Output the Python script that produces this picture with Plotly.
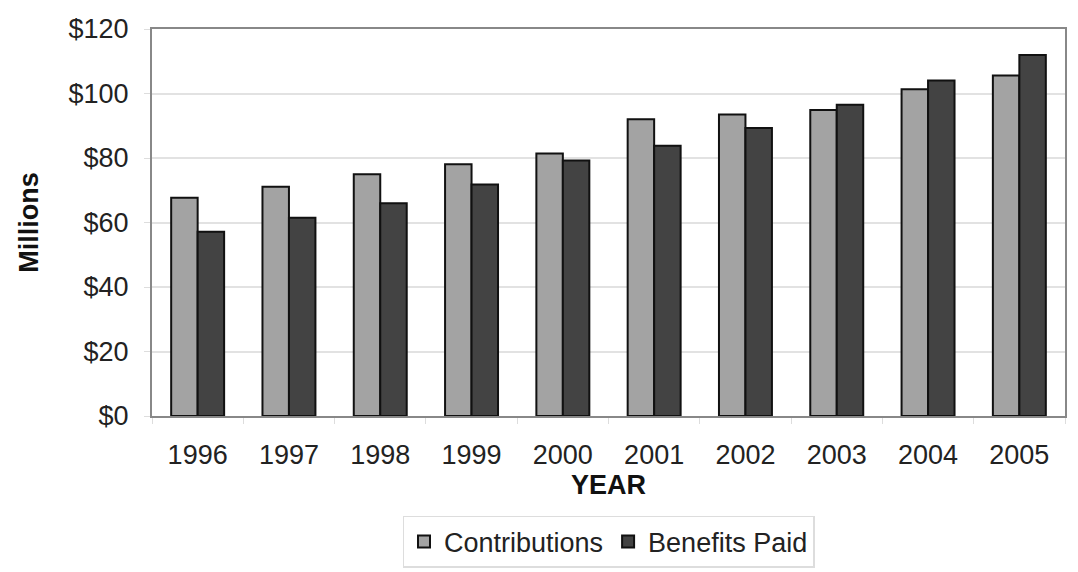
import plotly.graph_objects as go

# Annual fund flows, in millions of dollars
years = ["1996", "1997", "1998", "1999", "2000", "2001", "2002", "2003", "2004", "2005"]
contributions = [67.7, 71.1, 75.0, 78.1, 81.4, 92.0, 93.5, 94.9, 101.3, 105.6]
benefits_paid = [57.1, 61.5, 66.0, 71.8, 79.2, 83.8, 89.3, 96.5, 104.0, 111.9]
y_ticks = [0, 20, 40, 60, 80, 100, 120]
y_tick_labels = ["$0", "$20", "$40", "$60", "$80", "$100", "$120"]

FONT = "Liberation Sans, Arial, sans-serif"
FS = 27

fig = go.Figure()
fig.add_trace(go.Bar(
    x=years, y=contributions, name="Contributions",
    marker=dict(color="#a3a3a3", line=dict(color="#111111", width=2)),
))
fig.add_trace(go.Bar(
    x=years, y=benefits_paid, name="Benefits Paid",
    marker=dict(color="#434343", line=dict(color="#111111", width=2)),
))

fig.update_layout(
    width=1078, height=572,
    margin=dict(l=152, r=13, t=29, b=156, autoexpand=False),
    paper_bgcolor="white", plot_bgcolor="white",
    barmode="group", bargap=0.42, bargroupgap=0.0,
    font=dict(family=FONT, size=FS, color="#222222"),
    showlegend=True,
    legend=dict(
        orientation="h", x=0.5, xanchor="center", y=-0.258, yanchor="top",
        bordercolor="#dddddd", borderwidth=1.5,
        font=dict(size=FS, color="#222222"),
        itemwidth=30, traceorder="normal",
    ),
    xaxis=dict(
        type="category", automargin=False,
        showline=True, linecolor="#888888", linewidth=2, mirror=True,
        ticks="outside", tickson="boundaries", ticklen=6, tickcolor="#dddddd",
        ticklabelstandoff=14,
        tickfont=dict(size=FS),
        title=dict(text="<b>YEAR</b>", font=dict(size=FS, color="#111111"), standoff=6),
    ),
    yaxis=dict(
        range=[0, 120], automargin=False,
        tickvals=y_ticks, ticktext=y_tick_labels,
        showline=True, linecolor="#888888", linewidth=2, mirror=True,
        showgrid=True, gridcolor="#e2e2e2", gridwidth=1.5,
        ticks="outside", ticklen=6, tickcolor="#dddddd",
        ticklabelstandoff=10,
        tickfont=dict(size=FS),
        zeroline=False,
        title=dict(text="<b>Millions</b>", font=dict(size=FS, color="#111111"), standoff=22),
    ),
)

fig.write_html("out.html")
